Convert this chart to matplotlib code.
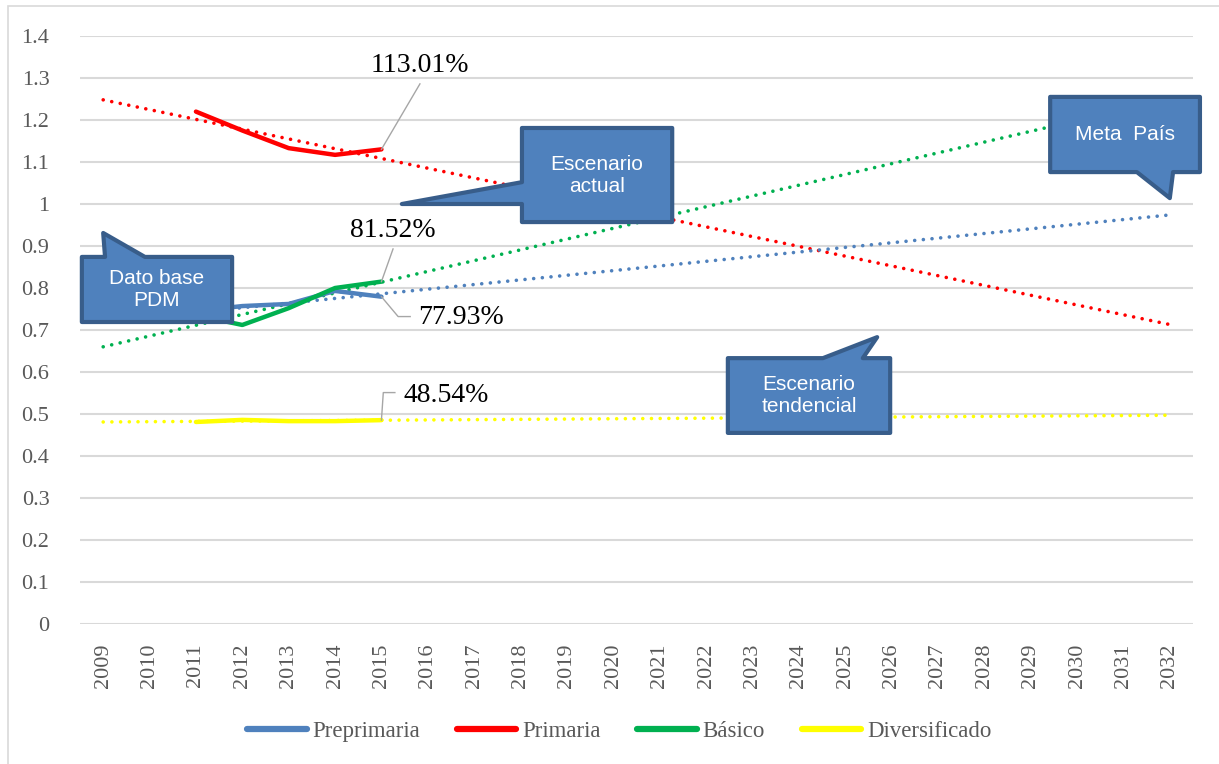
import numpy as np
import matplotlib
matplotlib.use("Agg")
import matplotlib.pyplot as plt
from matplotlib.patches import Polygon, Rectangle

# ---------------------------------------------------------------------------
# Data
# ---------------------------------------------------------------------------
years = list(range(2009, 2033))
data_years = [2011, 2012, 2013, 2014, 2015]

preprimaria = [0.745, 0.757, 0.762, 0.793, 0.7793]
primaria = [1.220, 1.175, 1.133, 1.117, 1.1301]
basico = [0.735, 0.712, 0.752, 0.800, 0.8152]
diversificado = [0.481, 0.486, 0.483, 0.483, 0.4854]

# trend lines (start year/value, end year/value)
trend_pre_years = [2011, 2032]
trend_pre = [0.742, 0.974]
trend_pri_years = [2009, 2032]
trend_pri = [1.248, 0.713]
trend_bas_years = [2009, 2032]
trend_bas = [0.660, 1.250]
trend_div_years = [2009, 2032]
trend_div = [0.481, 0.497]

series_names = ["Preprimaria", "Primaria", "Básico", "Diversificado"]
series_colors = ["#4F81BD", "#FF0000", "#00B050", "#FFFF00"]

labels_pct = ["113.01%", "81.52%", "77.93%", "48.54%"]

SERIF = ["Liberation Serif", "DejaVu Serif"]
SANS = ["Liberation Sans", "DejaVu Sans"]

CALLOUT_FILL = "#4F81BD"
CALLOUT_EDGE = "#385D8A"


def callout(ax, x0, x1, y0, y1, side, base, tip, text):
    """Box with a pointer; base = (lo, hi) position of tail on the given side."""
    lo, hi = base
    if side == "top":
        verts = [(x0, y0), (x1, y0), (x1, y1), (hi, y1), tip, (lo, y1), (x0, y1)]
    elif side == "bottom":
        verts = [(x0, y0), (lo, y0), tip, (hi, y0), (x1, y0), (x1, y1), (x0, y1)]
    else:  # left
        verts = [(x0, y0), (x1, y0), (x1, y1), (x0, y1), (x0, hi), tip, (x0, lo)]
    poly = Polygon(verts, closed=True, facecolor=CALLOUT_FILL, edgecolor=CALLOUT_EDGE,
                   linewidth=3.0, joinstyle="round", clip_on=False, zorder=10)
    ax.add_patch(poly)
    ax.text((x0 + x1) / 2, (y0 + y1) / 2, text, color="white", fontsize=15,
            family=SANS, ha="center", va="center", linespacing=1.2,
            zorder=11, clip_on=False)


fig = plt.figure(figsize=(12.19, 7.64), dpi=100)
ax = fig.add_axes([80 / 1219, 1 - 624 / 764, 1113 / 1219, 588 / 764])

# outer chart border
fig.patches.append(Rectangle((8 / 1219, -0.05), 1.1, 1 - 6 / 764 + 0.05,
                             transform=fig.transFigure, fill=False,
                             edgecolor="#D9D9D9", linewidth=1.2))

dot = (0, (0.01, 2.4))

# trend lines
for ty, tv, c in [(trend_pri_years, trend_pri, series_colors[1]),
                  (trend_bas_years, trend_bas, series_colors[2]),
                  (trend_pre_years, trend_pre, series_colors[0]),
                  (trend_div_years, trend_div, series_colors[3])]:
    ax.plot(ty, tv, color=c, linewidth=2.6, linestyle=dot,
            dash_capstyle="round", zorder=3)

# data series
for vals, c, name in zip([preprimaria, primaria, basico, diversificado],
                         series_colors, series_names):
    ax.plot(data_years, vals, color=c, linewidth=3.2, solid_capstyle="round",
            solid_joinstyle="round", label=name, zorder=4)

ax.set_xlim(2008.5, 2032.5)
ax.set_ylim(0, 1.4)
ax.set_xticks(years)
ax.set_xticklabels([str(y) for y in years], rotation=90, family=SERIF,
                   fontsize=16, color="#595959")
ax.set_yticks(np.arange(0, 1.41, 0.1))
ax.set_yticklabels(["0"] + [f"{v:g}" for v in np.arange(0.1, 1.41, 0.1).round(1)],
                   family=SERIF, fontsize=16, color="#595959")
ax.tick_params(axis="both", length=0)
ax.tick_params(axis="x", pad=14)
ax.tick_params(axis="y", pad=22)
for s in ax.spines.values():
    s.set_visible(False)
ax.grid(axis="y", color="#D9D9D9", linewidth=1.5)
ax.set_axisbelow(True)

# value labels with leader lines
lead = dict(color="#A6A6A6", linewidth=1.0, zorder=5)
ax.plot([2015, 2015.83], [primaria[-1], 1.286], **lead)
ax.text(2015.83, 1.329, labels_pct[0], family=SERIF, fontsize=20, ha="center", va="center")
ax.plot([2015, 2015.25], [basico[-1], 0.893], **lead)
ax.text(2015.25, 0.938, labels_pct[1], family=SERIF, fontsize=20, ha="center", va="center")
ax.plot([2015, 2015.36, 2015.62], [preprimaria[-1], 0.732, 0.732], **lead)
ax.text(2015.80, 0.729, labels_pct[2], family=SERIF, fontsize=20, ha="left", va="center")
ax.plot([2015, 2015.04, 2015.29], [diversificado[-1], 0.551, 0.551], **lead)
ax.text(2015.48, 0.545, labels_pct[3], family=SERIF, fontsize=20, ha="left", va="center")

# callouts
callout(ax, 2008.54, 2011.78, 0.719, 0.874, "top", (2009.04, 2009.90),
        (2009.0, 0.931), "Dato base\nPDM")
callout(ax, 2018.03, 2021.27, 0.957, 1.181, "left", (1.0, 1.052),
        (2015.44, 1.0), "Escenario\nactual")
callout(ax, 2029.42, 2032.65, 1.076, 1.255, "bottom", (2031.29, 2032.07),
        (2032.0, 1.014), "Meta  País")
callout(ax, 2022.47, 2025.97, 0.455, 0.633, "top", (2024.52, 2025.38),
        (2025.69, 0.683), "Escenario\ntendencial")

leg = fig.legend(loc="center", bbox_to_anchor=(0.508, 1 - 731 / 764), ncol=4,
                 frameon=False, prop={"family": SERIF, "size": 16.5},
                 handlelength=2.6, handletextpad=0.25, columnspacing=1.6)
for h in leg.get_lines():
    h.set_linewidth(4.5)
for t in leg.get_texts():
    t.set_color("#595959")

fig.savefig("out.png", dpi=100)
